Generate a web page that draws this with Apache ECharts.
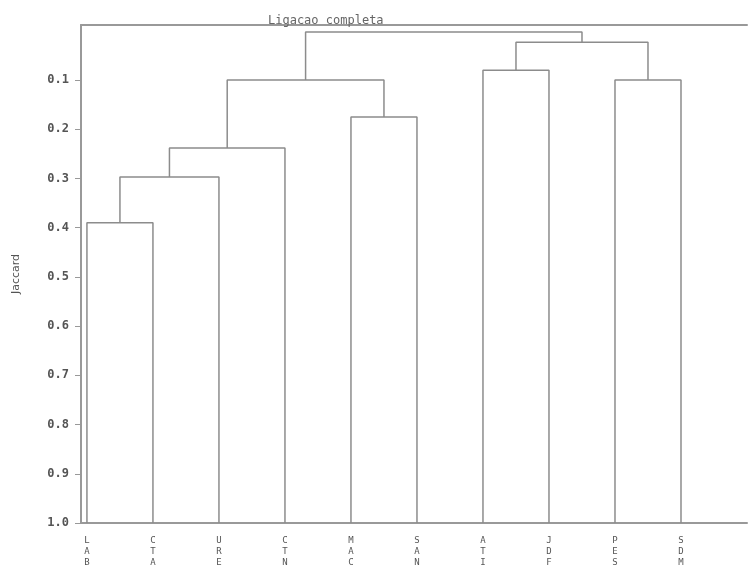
<!DOCTYPE html>
<html><head><meta charset="utf-8">
<script src="https://cdn.jsdelivr.net/npm/echarts@6/dist/echarts.min.js"></script>
<style>html,body{margin:0;padding:0;background:#fff}#c{width:748px;height:577px}</style>
</head><body><div id="c"></div>
<script>
const leaves = ['LAB','CTA','URE','CTN','MAC','SAN','ATI','JDF','PES','SDM'];
// merges: [nodeA, nodeB, height]; nodes 0-9 are leaves, 10+ are merges in order
const merges = [
  [0, 1, 0.39],
  [10, 2, 0.297],
  [11, 3, 0.238],
  [4, 5, 0.175],
  [12, 13, 0.10],
  [6, 7, 0.08],
  [8, 9, 0.10],
  [15, 16, 0.023],
  [14, 17, 0.002]
];
const yTicks = [0.1,0.2,0.3,0.4,0.5,0.6,0.7,0.8,0.9,1.0];
const leafHeight = 1.0;

const nodeX = leaves.map((_, i) => i);
const nodeH = leaves.map(() => leafHeight);
const segs = [];
merges.forEach(([a, b, h]) => {
  segs.push([nodeX[a], nodeH[a]], [nodeX[a], h], [nodeX[b], h], [nodeX[b], nodeH[b]], null);
  nodeX.push((nodeX[a] + nodeX[b]) / 2);
  nodeH.push(h);
});

const chart = echarts.init(document.getElementById('c'));
const lineCol = '#8c8c8c';
chart.setOption({
  animation: false,
  title: {
    text: 'Ligacao completa', left: 263, top: 10,
    textStyle: {fontFamily: 'DejaVu Sans Mono', fontSize: 12, fontWeight: 'normal', color: '#666'}
  },
  grid: {left: 81, right: 1, top: 25, bottom: 54},
  xAxis: [{
    type: 'value', min: -0.09, max: 10, position: 'bottom',
    axisLine: {show: true, onZero: false, lineStyle: {color: '#999', width: 2}},
    axisTick: {show: false},
    splitLine: {show: false},
    axisLabel: {
      customValues: leaves.map((_, i) => i),
      formatter: v => (leaves[Math.round(v)] || '').split('').join('\n'),
      fontFamily: 'DejaVu Sans Mono', fontSize: 9, lineHeight: 11, color: '#555', margin: 12
    }
  }, {
    type: 'value', min: -0.09, max: 10, position: 'top',
    axisLine: {show: true, onZero: false, lineStyle: {color: '#999', width: 2}},
    axisTick: {show: false}, axisLabel: {show: false}, splitLine: {show: false}
  }],
  yAxis: {
    type: 'value', inverse: true, min: -0.012, max: 1.0,
    name: 'Jaccard', nameLocation: 'middle', nameGap: 59, nameRotate: 90,
    nameTextStyle: {fontFamily: 'DejaVu Sans', fontSize: 11, color: '#555'},
    axisLine: {show: true, onZero: false, lineStyle: {color: '#999', width: 2}},
    axisTick: {show: true, customValues: yTicks, length: 6, lineStyle: {color: '#999'}},
    axisLabel: {
      customValues: yTicks, formatter: v => v.toFixed(1),
      fontFamily: 'DejaVu Sans Mono', fontSize: 12, fontWeight: 'bold', color: '#555', margin: 12
    },
    splitLine: {show: false}
  },
  series: [{
    type: 'line', data: segs, connectNulls: false, symbol: 'none',
    lineStyle: {color: lineCol, width: 1.5}, silent: true
  }]
});
</script></body></html>
